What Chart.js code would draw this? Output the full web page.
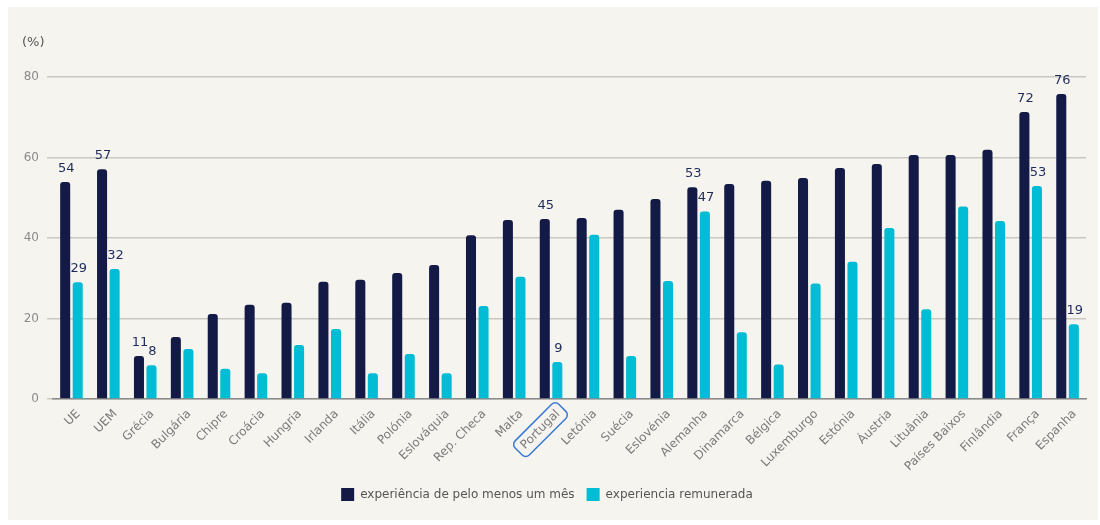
<!DOCTYPE html>
<html>
<head>
<meta charset="utf-8">
<script src="https://cdn.jsdelivr.net/npm/chart.js@4/dist/chart.umd.min.js"></script>
<style>
  html, body { margin: 0; padding: 0; background: #ffffff; }
  #wrap { position: absolute; left: 8px; top: 7px; width: 1090px; height: 513px; background: #f5f4ef; }
</style>
</head>
<body>
<div id="wrap"><canvas id="grafico" width="1090" height="513"></canvas></div>
<script>
const paises = ['UE', 'UEM', 'Grécia', 'Bulgária', 'Chipre', 'Croácia', 'Hungria', 'Irlanda', 'Itália', 'Polónia',
  'Eslováquia', 'Rep. Checa', 'Malta', 'Portugal', 'Letónia', 'Suécia', 'Eslovénia', 'Alemanha', 'Dinamarca',
  'Bélgica', 'Luxemburgo', 'Estónia', 'Áustria', 'Lituânia', 'Países Baixos', 'Finlândia', 'França', 'Espanha'];

const pelomenos = [53.9, 57.1, 10.7, 15.4, 21.1, 23.4, 23.9, 29.1, 29.6, 31.3, 33.3, 40.7, 44.5, 44.7,
  45.0, 47.0, 49.7, 52.6, 53.4, 54.2, 54.9, 57.4, 58.4, 60.6, 60.6, 61.9, 71.3, 75.8];
const remunerada = [29.0, 32.3, 8.4, 12.4, 7.5, 6.4, 13.4, 17.4, 6.4, 11.2, 6.4, 23.1, 30.4, 9.2,
  40.8, 10.7, 29.3, 46.6, 16.6, 8.6, 28.7, 34.1, 42.5, 22.3, 47.8, 44.2, 52.9, 18.6];

// rótulos só nalgumas barras
const rotulosPM = ['54', '57', '11', null, null, null, null, null, null, null, null, null, null, '45',
  null, null, null, '53', null, null, null, null, null, null, null, null, '72', '76'];
const rotulosRem = ['29', '32', '8', null, null, null, null, null, null, null, null, null, null, '9',
  null, null, null, '47', null, null, null, null, null, null, null, null, '53', '19'];

const yTicks = [0, 20, 40, 60, 80];
const destaque = 'Portugal';

const fonte = '"DejaVu Sans", Verdana, sans-serif';

const rotulos = {
  id: 'rotulos',
  afterDatasetsDraw(chart) {
    const ctx = chart.ctx;
    const listas = [rotulosPM, rotulosRem];
    ctx.save();
    ctx.font = '13px ' + fonte;
    ctx.fillStyle = '#1f2b5c';
    ctx.textAlign = 'center';
    ctx.textBaseline = 'alphabetic';
    chart.data.datasets.forEach((ds, d) => {
      chart.getDatasetMeta(d).data.forEach((bar, i) => {
        const t = listas[d][i];
        if (t) ctx.fillText(t, bar.x + 1, bar.y - 10);
      });
    });
    // (%)
    ctx.fillStyle = '#555555';
    ctx.textAlign = 'left';
    ctx.textBaseline = 'middle';
    ctx.fillText('(%)', chart.chartArea.left - 31, chart.chartArea.top - 34);
    ctx.restore();
  },
  afterDraw(chart) {
    // caixa azul à volta de Portugal, a partir da posição do rótulo calculada pelo Chart.js
    const x = chart.scales.x;
    const item = x.getLabelItems()[paises.indexOf(destaque)];
    if (!item) return;
    const ctx = chart.ctx;
    const o = item.options;
    ctx.save();
    ctx.font = item.font.string;
    const w = ctx.measureText(destaque).width;
    const fs = item.font.size;
    let c = item.textOffset;
    if (o.textBaseline === 'top') c += fs / 2;
    else if (o.textBaseline === 'bottom' || o.textBaseline === 'alphabetic') c -= fs / 2;
    ctx.translate(o.translation[0], o.translation[1]);
    ctx.rotate(o.rotation);
    ctx.strokeStyle = '#3a78d6';
    ctx.lineWidth = 1.5;
    ctx.beginPath();
    ctx.roundRect(-w - 6, c - 10, w + 12, 20, 5);
    ctx.stroke();
    ctx.restore();
  }
};

new Chart(document.getElementById('grafico'), {
  type: 'bar',
  data: {
    labels: paises,
    datasets: [{
      label: 'experiência de pelo menos um mês',
      data: pelomenos,
      backgroundColor: '#121a45',
      borderRadius: { topLeft: 3, topRight: 3 },
      borderSkipped: 'bottom'
    }, {
      label: 'experiencia remunerada',
      data: remunerada,
      backgroundColor: '#00bcd4',
      borderRadius: { topLeft: 3, topRight: 3 },
      borderSkipped: 'bottom'
    }]
  },
  options: {
    responsive: false,
    animation: false,
    layout: { padding: { top: 70, right: 12, bottom: 9, left: 0 } },
    datasets: { bar: { categoryPercentage: 0.68, barPercentage: 0.8 } },
    scales: {
      x: {
        grid: { display: false, drawTicks: false },
        border: { display: true, color: '#8a8a8a', width: 1.5 },
        ticks: {
          autoSkip: false, minRotation: 45, maxRotation: 45, padding: 8, labelOffset: 7,
          color: '#7a7a7a', font: { family: fonte, size: 12 }
        },
        afterFit: (s) => { s.height = 77; }
      },
      y: {
        min: 0, max: 80,
        afterBuildTicks: (s) => { s.ticks = yTicks.map(v => ({ value: v })); },
        grid: { color: '#c9c7c1', lineWidth: 1.5, drawTicks: true, tickLength: 6 },
        border: { display: false },
        ticks: { color: '#8a8a8a', padding: 8, font: { family: fonte, size: 12 } },
        afterFit: (s) => { s.width = 45; }
      }
    },
    plugins: {
      legend: {
        position: 'bottom',
        labels: {
          boxWidth: 13, boxHeight: 13, padding: 12,
          color: '#555555', font: { family: fonte, size: 12 }
        }
      },
      tooltip: { enabled: false }
    }
  },
  plugins: [rotulos]
});
</script>
</body>
</html>
